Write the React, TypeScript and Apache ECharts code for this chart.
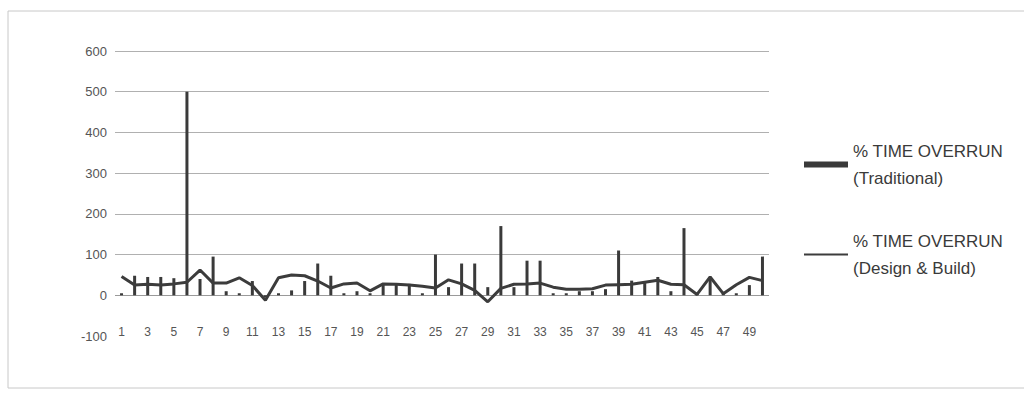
import React, { useEffect, useRef } from "react";
import * as echarts from "echarts";

const categories: string[] = Array.from({ length: 50 }, (_, i) => String(i + 1));

const traditional: number[] = [
  5, 48, 45, 45, 42, 500, 40, 95, 10, 5,
  35, -5, 5, 12, 35, 78, 48, 5, 10, 5,
  28, 28, 28, 5, 100, 20, 78, 78, 20, 170,
  20, 85, 85, 5, 5, 10, 10, 15, 110, 36,
  30, 45, 10, 165, 5, 40, 5, 5, 25, 95,
];

const designBuild: number[] = [
  46, 25, 27, 25, 28, 32, 62, 30, 30, 43,
  24, -12, 43, 50, 48, 35, 18, 28, 30, 11,
  28, 27, 25, 22, 18, 38, 28, 12, -16, 17,
  27, 28, 30, 20, 15, 15, 16, 25, 26, 27,
  32, 37, 27, 26, 2, 45, 4, 26, 44, 36,
];

const yTicks = { min: -100, max: 600, interval: 100 };

const nameTraditional = "% TIME OVERRUN (Traditional)";
const nameDesignBuild = "% TIME OVERRUN (Design & Build)";

export default function App() {
  const ref = useRef<HTMLDivElement>(null);

  useEffect(() => {
    if (!ref.current) return;
    const chart = echarts.init(ref.current, undefined, { renderer: "svg" });
    const font = "'Liberation Sans', Arial, sans-serif";
    const legendLine = 27;
    chart.setOption({
      animation: false,
      backgroundColor: "#ffffff",
      textStyle: { fontFamily: font },
      graphic: [
        {
          type: "rect",
          shape: { x: 8, y: 11, width: 1030, height: 377 },
          style: { fill: "none", stroke: "#c8c8c8", lineWidth: 1 },
          silent: true,
        },
      ],
      grid: { left: 115, right: 255, top: 51, bottom: 64 },
      legend: {
        orient: "vertical",
        left: 798,
        top: 119,
        itemGap: 9,
        itemWidth: 44,
        itemHeight: 6,
        textStyle: {
          color: "#3a3a3a",
          fontSize: 17,
          lineHeight: legendLine,
          padding: [legendLine, 0, 0, 0],
        },
        formatter: (name: string) => {
          const idx = name.indexOf(" (");
          return name.slice(0, idx) + "\n" + name.slice(idx + 1);
        },
        data: [
          { name: nameTraditional, icon: "rect" },
          { name: nameDesignBuild, itemStyle: { opacity: 0 } },
        ],
      },
      xAxis: {
        type: "category",
        data: categories,
        boundaryGap: true,
        axisLine: { show: false },
        axisTick: { show: false },
        axisLabel: {
          interval: 1,
          color: "#555555",
          fontSize: 12,
          margin: -10,
          fontFamily: font,
        },
        splitLine: { show: false },
      },
      yAxis: {
        type: "value",
        min: yTicks.min,
        max: yTicks.max,
        interval: yTicks.interval,
        axisLine: { show: false },
        axisTick: { show: false },
        axisLabel: { color: "#555555", fontSize: 13, margin: 8, fontFamily: font },
        splitLine: {
          show: true,
          lineStyle: {
            color: ["rgba(0,0,0,0)", "#9a9a9a", "#b0b0b0", "#b0b0b0", "#b0b0b0", "#b0b0b0", "#b0b0b0", "#b0b0b0"],
            width: 1,
          },
        },
      },
      series: [
        {
          name: nameTraditional,
          type: "bar",
          data: traditional,
          barWidth: 3,
          itemStyle: { color: "#3a3a3a" },
        },
        {
          name: nameDesignBuild,
          type: "line",
          data: designBuild,
          symbol: "none",
          showSymbol: false,
          lineStyle: { color: "#3c3c3c", width: 3 },
          itemStyle: { color: "#3c3c3c" },
        },
      ],
    });
    return () => chart.dispose();
  }, []);

  return (
    <div
      ref={ref}
      style={{ position: "fixed", left: 0, top: 0, width: 1024, height: 400 }}
    />
  );
}
